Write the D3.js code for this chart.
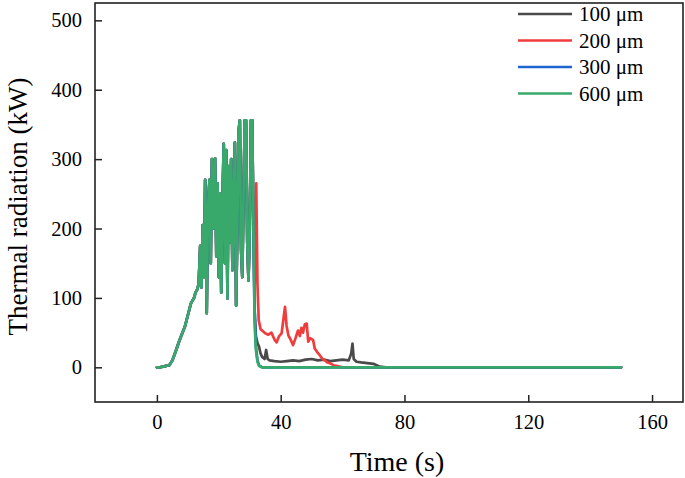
<!DOCTYPE html>
<html>
<head>
<meta charset="utf-8">
<script src="https://cdn.jsdelivr.net/npm/d3@7"></script>
<style>
  html, body { margin: 0; padding: 0; background: #fff; }
  svg { display: block; }
  text { font-family: "Liberation Serif", "Times New Roman", serif; fill: #000; }
</style>
</head>
<body>
<svg id="chart" width="685" height="478"></svg>
<script>
// ---------------- data ----------------
const seriesNames = ["100 \u03bcm", "200 \u03bcm", "300 \u03bcm", "600 \u03bcm"];
const seriesColors = ["#4a4a4a", "#f03c3c", "#1f66d1", "#38a96a"];

// shared growth / burst phase (all series overlap until ~31 s)
const sharedTime = [0,1,2,3,4,5,6,7,8,9,10,11,12,12.5,13,13.5,14,14.4,14.8,15.2,15.6,16.1,16.5,17,17.4,17.8,18.3,18.8,19.2,19.6,20,20.4,20.8,21.2,21.6,22,22.4,22.8,23.2,23.6,24,24.4,24.8,25.2,25.6,26,26.4,26.8,27.2,27.6,28,28.4,28.8,29.2,29.6,30,30.4,30.8,31.2];
const sharedValue = [0,0,1,2,3,10,22,35,47,58,75,92,100,108,112,120,175,115,205,130,270,78,230,270,150,300,200,301,160,265,130,250,108,240,322,150,313,99,290,180,300,140,230,324,89,200,340,356,170,130,250,356,356,180,125,200,356,356,200];

// tails after the burst
const tail100Time  = [31.6,32,32.5,33,33.5,34,34.8,35.3,35.8,36.4,38,40,42,44,46,48,50,52,54,56,58,60,62,62.8,63.2,63.6,64.5,66,68,70,71,72,74,150];
const tail100Value = [80,45,35,30,20,15,12,25,12,10,9,8,9,10,9,11,12,10,11,9,10,11,10,20,34,12,8,7,6,5,3,1,0,0];

const tail200Time  = [31.6,32.1,32.5,32.9,33.5,34,35,36,37,38,38.7,39.5,40.3,40.9,41.4,41.9,42.5,43.2,44,44.8,45.6,46.2,46.7,47.2,47.8,48.4,48.9,49.5,50.5,51,51.8,52.7,53.5,54.3,55.1,55.9,57,58,60,150];
const tail200Value = [120,265,120,68,55,53,49,47,50,40,36,45,49,70,87,60,46,40,32,42,53,45,57,50,62,63,37,42,39,27,22,17,12,10,7,6,3,2,0,0];

const tail300Time  = [31.5,32,32.5,33,34,150];
const tail300Value = [90,30,10,3,0,0];

const tail600Time  = [31.6,32,32.5,33,34,150];
const tail600Value = [60,25,8,2,0,0];

const xTicks = [0, 40, 80, 120, 160];
const yTicks = [0, 100, 200, 300, 400, 500];

// ---------------- build series ----------------
function build(tT, tV) {
  const pts = sharedTime.map((t, i) => ({t, v: sharedValue[i]}));
  tT.forEach((t, i) => pts.push({t, v: tV[i]}));
  return pts;
}
const series = [
  build(tail100Time, tail100Value),
  build(tail200Time, tail200Value),
  build(tail300Time, tail300Value),
  build(tail600Time, tail600Value)
];

// ---------------- chart ----------------
const svg = d3.select("#chart");
const L = 95, R = 683, T = 3, B = 402;

const x = d3.scaleLinear().domain([-20, 170]).range([L, R]);
const y = d3.scaleLinear().domain([-50, 525]).range([B, T]);

const line = d3.line().x(d => x(d.t)).y(d => y(d.v));

series.forEach((s, i) => {
  svg.append("path")
    .datum(s)
    .attr("fill", "none")
    .attr("stroke", seriesColors[i])
    .attr("stroke-width", 2.7)
    .attr("stroke-linejoin", "round")
    .attr("stroke-linecap", "round")
    .attr("d", line);
});

// axes (inward ticks)
const xAxis = d3.axisBottom(x).tickValues(xTicks).tickSizeInner(-7).tickSizeOuter(0).tickPadding(12);
const yAxis = d3.axisLeft(y).tickValues(yTicks).tickSizeInner(-7).tickSizeOuter(0).tickPadding(13);

const gx = svg.append("g").attr("transform", `translate(0,${B})`).call(xAxis);
const gy = svg.append("g").attr("transform", `translate(${L},0)`).call(yAxis);
[gx, gy].forEach(g => {
  g.select(".domain").remove();
  g.selectAll(".tick line").attr("stroke", "#222").attr("stroke-width", 1.5);
  g.selectAll(".tick text").attr("font-size", 20.5).attr("font-family", "Liberation Serif, Times New Roman, serif").attr("fill", "#000");
});

// frame
svg.append("rect")
  .attr("x", L).attr("y", T).attr("width", R - L).attr("height", B - T)
  .attr("fill", "none").attr("stroke", "#222").attr("stroke-width", 1.6);

// axis titles
svg.append("text")
  .attr("x", (L + R) / 2 + 8).attr("y", 471)
  .attr("text-anchor", "middle").attr("font-size", 28)
  .text("Time (s)");
svg.append("text")
  .attr("transform", `translate(27,${(T + B) / 2 + 4}) rotate(-90)`)
  .attr("text-anchor", "middle").attr("font-size", 27)
  .text("Thermal radiation (kW)");

// legend
const legend = svg.append("g");
seriesNames.forEach((name, i) => {
  const yy = 14 + i * 26.5;
  legend.append("line")
    .attr("x1", 518).attr("x2", 572).attr("y1", yy).attr("y2", yy)
    .attr("stroke", seriesColors[i]).attr("stroke-width", 2.7);
  legend.append("text")
    .attr("x", 579).attr("y", yy).attr("dy", "0.35em")
    .attr("font-size", 21)
    .text(name);
});
</script>
</body>
</html>
